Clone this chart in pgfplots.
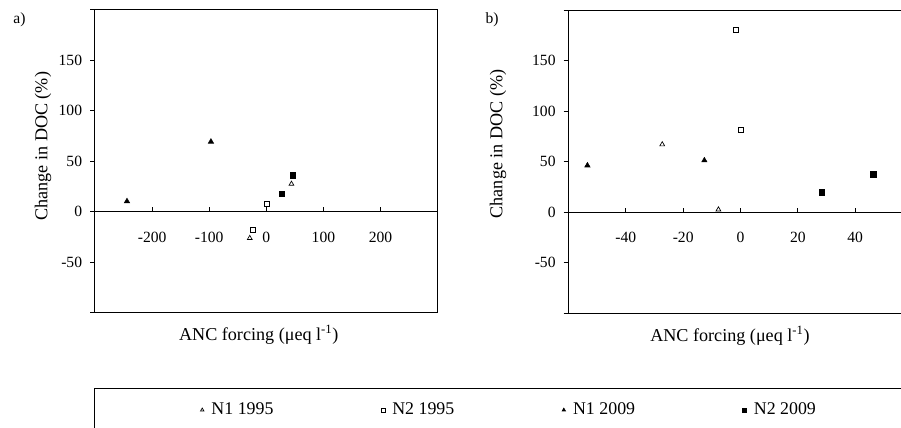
\documentclass[border=0pt]{standalone}
\usepackage{fontspec}
\setmainfont{Liberation Serif}
\usepackage{pgfplots}
\pgfplotsset{compat=1.18}

\newcommand{\titlefont}{\fontsize{13.6}{16}\selectfont}
\newcommand{\legfont}{\fontsize{13.4}{16}\selectfont}

\pgfplotsset{
  panel/.style={
    scale only axis,
    axis x line=middle,
    axis y line=left,
    axis line style={-, line width=0.75pt, black},
    ymin=-100, ymax=200,
    ytick={-100,-50,0,50,100,150,200},
    yticklabels={{},-50,0,50,100,150,{}},
    ytick align=outside,
    xtick align=inside,
    major tick length=3.6pt,
    tick style={line width=0.6pt, black},
    tick label style={font=\fontsize{11.7}{14}\selectfont},
    yticklabel style={xshift=-2pt},
    xticklabel style={yshift=-11pt},
    clip=false,
  },
  myleg/.style={legend image code/.code={\path (-6.75pt,0pt) (6.75pt,0pt); \draw[##1,mark size=1.5pt] plot coordinates {(0pt,0pt)};}},
  nAa/.style={color=black, only marks, mark=triangle, mark size=2.1pt, mark options={solid, fill=white, draw=black, line width=0.5pt}, myleg},
  nBa/.style={color=black, only marks, mark=square, mark size=1.9pt, mark options={solid, fill=white, draw=black, line width=0.55pt}, myleg},
  nAb/.style={color=black, only marks, mark=triangle*, mark size=2.3pt, mark options={solid, fill=black, draw=black}, myleg},
  nBb/.style={color=black, only marks, mark=square*, mark size=2.1pt, mark options={solid, fill=black, draw=black}, myleg},
}

\begin{document}
\fontsize{11.7}{14}\selectfont
\begin{tikzpicture}
% panel a
\begin{axis}[panel,
  at={(71.25pt,86.625pt)}, anchor=south west,
  width=257pt, height=227.25pt,
  xmin=-300, xmax=300,
  xtick={-300,-200,-100,0,100,200,300},
  xticklabels={{},-200,-100,0,100,200,{}},
  legend columns=4,
  legend cell align=left,
  legend style={at={(axis description cs:0.2851,-0.3218)}, anchor=west, draw=none, fill=none,
    inner xsep=0pt, inner ysep=0pt, column sep=0pt, nodes={inner sep=0pt}, font=\legfont},
]
\draw[line width=0.75pt] (rel axis cs:0,0) -- (rel axis cs:1,0) -- (rel axis cs:1,1) -- (rel axis cs:0,1);
\addplot[nAa] coordinates {(-29,-26.4) (44,27.3)};
\addlegendentry{\makebox[121.7pt][l]{N1 1995}}
\addplot[nBa] coordinates {(-24,-18.2) (0.5,7.6)};
\addlegendentry{\makebox[121.7pt][l]{N2 1995}}
\addplot[nAb] coordinates {(-244,10.1) (-97,69.1)};
\addlegendentry{\makebox[121.7pt][l]{N1 2009}}
\addplot[nBb] coordinates {(27,17.7) (46,35.7)};
\addlegendentry{\makebox[121.7pt][l]{N2 2009}}
\node[rotate=90, anchor=center, font=\titlefont] at (axis description cs:-0.152,0.549) {Change in DOC (\%)};
\node[anchor=center, font=\titlefont] at (axis description cs:0.478,-0.073) {ANC forcing (μeq l\textsuperscript{-1})};
\end{axis}

% panel b
\begin{axis}[panel,
  at={(426.375pt,86pt)}, anchor=south west,
  width=258pt, height=227.25pt,
  xmin=-60, xmax=60,
  xtick={-60,-40,-20,0,20,40,60},
  xticklabels={{},-40,-20,0,20,40,{}},
]
\draw[line width=0.75pt] (rel axis cs:0,0) -- (rel axis cs:1,0) -- (rel axis cs:1,1) -- (rel axis cs:0,1);
\addplot[nAa] coordinates {(-27.3,67.2) (-7.7,2.7)};
\addplot[nBa] coordinates {(-1.6,180.2) (0,81.4)};
\addplot[nAb] coordinates {(-53.4,46.4) (-12.6,51.4)};
\addplot[nBb] coordinates {(28.4,19.8) (46.4,37.9)};
\node[rotate=90, anchor=center, font=\titlefont] at (axis description cs:-0.205,0.559) {Change in DOC (\%)};
\node[anchor=center, font=\titlefont] at (axis description cs:0.4695,-0.075) {ANC forcing (μeq l\textsuperscript{-1})};
\end{axis}

\node[anchor=center] at (14.6pt,306.4pt) {a)};
\node[anchor=center] at (369pt,306pt) {b)};

% legend frame
\draw[line width=0.75pt] (71pt,-20pt) -- (71pt,29.8pt) -- (720pt,29.8pt);

\pgfresetboundingbox
\path[use as bounding box] (0pt,0pt) rectangle (675.75pt,321pt);
\end{tikzpicture}
\end{document}
